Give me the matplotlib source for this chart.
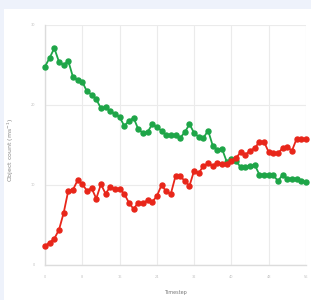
import matplotlib
matplotlib.use("Agg")
import matplotlib.pyplot as plt
from matplotlib.patches import Rectangle

# values
steps = list(range(57))
red_series = [2.4, 2.8, 3.3, 4.4, 6.5, 9.3, 9.4, 10.6, 10.1, 9.3,
              9.6, 8.3, 10.1, 8.9, 9.8, 9.5, 9.5, 8.9, 7.8, 7.0,
              7.8, 7.7, 8.1, 7.9, 8.6, 10.0, 9.2, 8.9, 11.1, 11.1,
              10.5, 9.9, 11.8, 11.5, 12.4, 12.7, 12.4, 12.8, 12.6, 12.6,
              13.0, 13.4, 14.1, 13.8, 14.3, 14.6, 15.4, 15.4, 14.1, 14.0,
              14.0, 14.6, 14.7, 14.3, 15.8, 15.7, 15.8]
green_series = [24.8, 25.9, 27.1, 25.4, 25.0, 25.5, 23.5, 23.1, 22.9, 21.7,
                21.3, 20.7, 19.6, 19.7, 19.2, 18.9, 18.5, 17.4, 18.0, 18.4,
                17.0, 16.5, 16.6, 17.6, 17.2, 16.8, 16.2, 16.2, 16.3, 15.9,
                16.6, 17.6, 16.5, 16.0, 15.9, 16.8, 14.9, 14.4, 14.5, 12.9,
                13.2, 13.0, 12.2, 12.3, 12.4, 12.5, 11.3, 11.3, 11.3, 11.2,
                10.5, 11.3, 10.8, 10.8, 10.8, 10.5, 10.4]
x_ticks = [0, 8, 16, 24, 32, 40, 48, 56]
y_ticks = [0, 10, 20, 30]

W, H = 311, 300
fig = plt.figure(figsize=(W / 100, H / 100), dpi=100)
fig.patch.set_facecolor("#eef2fb")

# white card behind the chart
card = Rectangle((4 / W, 0), 1 - 4 / W, (H - 9) / H,
                 transform=fig.transFigure, facecolor="white",
                 edgecolor="none", zorder=-1)
fig.add_artist(card)

ax = fig.add_axes([45 / W, (H - 265) / H, (306 - 45) / W, (265 - 25) / H])
ax.set_zorder(2)
ax.set_facecolor("white")

ax.plot(steps, green_series, color="#1ea548", lw=1.3, marker="o", ms=3.6,
        clip_on=False, zorder=3)
ax.plot(steps, red_series, color="#e8261a", lw=1.3, marker="o", ms=3.6,
        clip_on=False, zorder=3)

ax.set_xlim(0, 56)
ax.set_ylim(0, 30)
ax.set_xticks(x_ticks)
ax.set_yticks(y_ticks)
ax.tick_params(labelsize=2.5, colors="#c0c0c0", length=0, pad=7)
ax.grid(True, color="#ebebeb", lw=0.8)
for side in ["top", "right"]:
    ax.spines[side].set_visible(False)
for side in ["left", "bottom"]:
    ax.spines[side].set_color("#dcdcdc")
    ax.spines[side].set_linewidth(1.0)

ax.set_xlabel("Timestep", fontsize=3.5, color="#777777", labelpad=8)
ax.set_ylabel("Object count (ms$^{-1}$)", fontsize=4.5, color="#888888",
              labelpad=12)
ax.yaxis.set_label_coords(-29 / 261, 0.48)

fig.savefig("out.png", dpi=100, facecolor=fig.get_facecolor())
